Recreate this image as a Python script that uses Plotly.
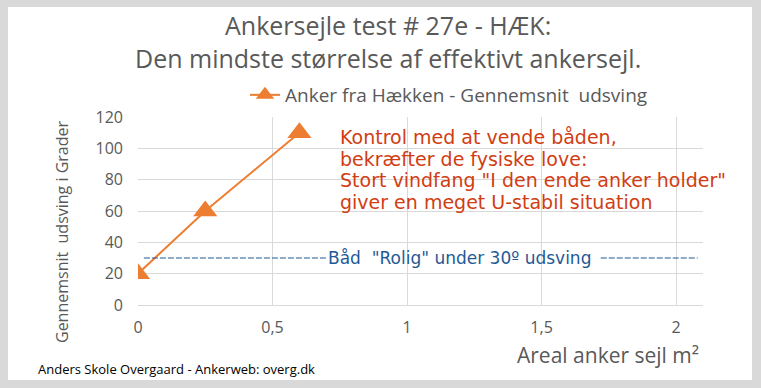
import plotly.graph_objects as go

# Data
areal = [0, 0.25, 0.6]
udsving = [20, 60, 110]
series_name = "Anker fra Hækken - Gennemsnit  udsving"
rolig_graense = 30
x_tickvals = [0, 0.5, 1, 1.5, 2]
x_ticktext = ["0", "0,5", "1", "1,5", "2"]
y_tickvals = [0, 20, 40, 60, 80, 100, 120]
note_lines = [
    "Kontrol med at vende båden,",
    "bekræfter de fysiske love:",
    "Stort vindfang \"I den ende anker holder\"",
    "giver en meget U-stabil situation",
]

W, H = 761, 388
L, R, T, B = 138, 58, 117, 83
pw, ph = W - L - R, H - T - B

def px(x):
    return (x - L) / pw

def py(y):
    return (H - B - y) / ph

orange = "#ed7d31"
grey_txt = "#595959"
grid = "#d9d9d9"
blue = "#1f5a96"
red = "#d13d12"

fig = go.Figure()
fig.add_trace(go.Scatter(
    x=areal, y=udsving, mode="lines+markers", name=series_name,
    line=dict(color=orange, width=2),
    marker=dict(symbol="triangle-up", size=21, color=orange),
    showlegend=True,
))

shapes = [
    dict(type="rect", xref="paper", yref="paper", x0=px(8), x1=px(752), y0=py(380), y1=py(7),
         fillcolor="white", line=dict(width=0), layer="below"),
    dict(type="line", xref="x", yref="y", x0=0.022, x1=0.70, y0=rolig_graense, y1=rolig_graense,
         line=dict(color=blue, width=1, dash="6px,2px"), layer="above"),
    dict(type="line", xref="x", yref="y", x0=1.72, x1=2.08, y0=rolig_graense, y1=rolig_graense,
         line=dict(color=blue, width=1, dash="6px,2px"), layer="above"),
]

annotations = [
    dict(text="Ankersejle test # 27e - HÆK:", x=px(388), y=py(25), xref="paper", yref="paper",
         xanchor="center", yanchor="middle", showarrow=False,
         font=dict(family="Open Sans", size=25, color=grey_txt)),
    dict(text="Den mindste størrelse af effektivt ankersejl.", x=px(388), y=py(58), xref="paper", yref="paper",
         xanchor="center", yanchor="middle", showarrow=False,
         font=dict(family="Open Sans", size=25, color=grey_txt)),
    dict(text="Gennemsnit  udsving i Grader", x=px(62), y=py(232), xref="paper", yref="paper",
         xanchor="center", yanchor="middle", showarrow=False, textangle=-90,
         font=dict(family="Open Sans", size=16, color=grey_txt)),
    dict(text="Areal anker sejl m²", x=px(701), y=py(355), xref="paper", yref="paper",
         xanchor="right", yanchor="middle", showarrow=False,
         font=dict(family="Open Sans", size=21, color=grey_txt)),
    dict(text="Anders Skole Overgaard - Ankerweb: overg.dk", x=px(36), y=py(369), xref="paper", yref="paper",
         xanchor="left", yanchor="middle", showarrow=False,
         font=dict(family="Open Sans", size=13, color="black")),
    dict(text="Båd  \"Rolig\" under 30º udsving", x=0.70, y=rolig_graense, xref="x", yref="y",
         xanchor="left", yanchor="middle", showarrow=False,
         font=dict(family="DejaVu Sans", size=17, color=blue)),
]
for i, line in enumerate(note_lines):
    annotations.append(dict(text=line, x=px(338), y=py(137 + 21.7 * i), xref="paper", yref="paper",
                            xanchor="left", yanchor="middle", align="left", showarrow=False,
                            font=dict(family="DejaVu Sans", size=19, color=red)))

fig.update_layout(
    width=W, height=H,
    margin=dict(l=L, r=R, t=T, b=B),
    paper_bgcolor="#d9d9d9",
    plot_bgcolor="white",
    separators=",.",
    shapes=shapes,
    annotations=annotations,
    legend=dict(orientation="h", x=px(245), y=py(95), xanchor="left", yanchor="middle",
                bgcolor="rgba(0,0,0,0)", font=dict(family="Open Sans", size=19, color=grey_txt)),
    xaxis=dict(range=[0, 2.1], tickvals=x_tickvals, ticktext=x_ticktext, showgrid=True,
               gridcolor=grid, gridwidth=1, zeroline=False, showline=True, linecolor=grid,
               tickfont=dict(family="Open Sans", size=16, color=grey_txt), ticks="",
               ticklabelstandoff=8),
    yaxis=dict(range=[0, 120], tickvals=y_tickvals, showgrid=True, gridcolor=grid, gridwidth=1,
               zeroline=False, showline=False,
               tickfont=dict(family="Open Sans", size=16, color=grey_txt), ticks="",
               ticklabelstandoff=14),
)

fig.write_html("out.html")
